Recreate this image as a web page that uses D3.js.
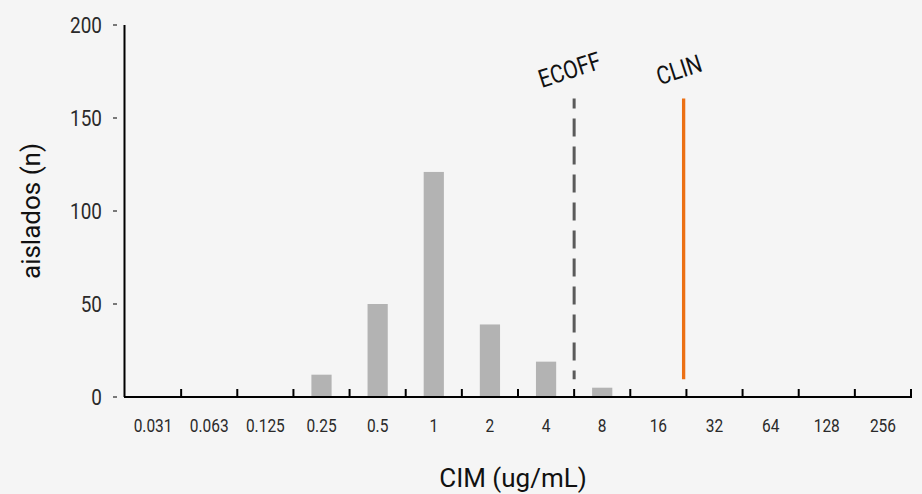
<!DOCTYPE html>
<html>
<head>
<meta charset="utf-8">
<script src="https://cdn.jsdelivr.net/npm/d3@7"></script>
<style>
  body { margin: 0; background: #f5f5f5; }
  svg { display: block; font-family: Roboto, "Liberation Sans", sans-serif; }
</style>
</head>
<body>
<div id="chart"></div>
<script>
// Data
const mic = ["0.031", "0.063", "0.125", "0.25", "0.5", "1", "2", "4", "8", "16", "32", "64", "128", "256"];
const isolates = [0, 0, 0, 12, 50, 121, 39, 19, 5, 0, 0, 0, 0, 0];
const yTicks = [0, 50, 100, 150, 200];
// cut-off lines, position in category units from the left edge
const cutoffNames = ["ECOFF", "CLIN"];
const cutoffPos = [8, 9.95];
const cutoffRange = [9.5, 160.5];

const width = 922;
const height = 494;
const margin = {top: 25, right: 11, bottom: 97, left: 125};
const squeeze = 0.86; // narrow the Roboto glyphs a bit

const svg = d3.select("#chart")
  .append("svg")
  .attr("width", width)
  .attr("height", height);

const x = d3.scaleBand()
  .domain(mic)
  .range([margin.left, width - margin.right])
  .padding(0);

const xu = d3.scaleLinear()
  .domain([0, mic.length])
  .range([margin.left, width - margin.right]);

const y = d3.scaleLinear()
  .domain([0, 200])
  .range([height - margin.bottom, margin.top]);

const barW = x.bandwidth() * 0.36;

// Bars
svg.selectAll(".bar")
  .data(mic.map((m, i) => ({m: m, n: isolates[i]})).filter(d => d.n > 0))
  .enter()
  .append("rect")
  .attr("class", "bar")
  .attr("x", d => x(d.m) + (x.bandwidth() - barW) / 2)
  .attr("y", d => y(d.n))
  .attr("width", barW)
  .attr("height", d => y(0) - y(d.n))
  .attr("fill", "#b3b3b3");

// X axis: line plus upward ticks at the band edges
svg.append("line")
  .attr("x1", margin.left - 1)
  .attr("x2", width - margin.right + 1)
  .attr("y1", y(0))
  .attr("y2", y(0))
  .attr("stroke", "#000")
  .attr("stroke-width", 2);

svg.selectAll(".xtick")
  .data(d3.range(1, mic.length + 1))
  .enter()
  .append("line")
  .attr("x1", d => xu(d))
  .attr("x2", d => xu(d))
  .attr("y1", y(0))
  .attr("y2", y(0) - 8)
  .attr("stroke", "#000")
  .attr("stroke-width", 2);

svg.selectAll(".xlab")
  .data(mic)
  .enter()
  .append("text")
  .attr("transform", d => `translate(${x(d) + x.bandwidth() / 2},432) scale(${squeeze},1)`)
  .attr("text-anchor", "middle")
  .style("font-size", "18px")
  .attr("fill", "#2a2a2a")
  .text(d => d);

// Y axis
svg.append("line")
  .attr("x1", margin.left - 0.5)
  .attr("x2", margin.left - 0.5)
  .attr("y1", y(200))
  .attr("y2", y(0))
  .attr("stroke", "#000")
  .attr("stroke-width", 2);

svg.selectAll(".ytick")
  .data(yTicks)
  .enter()
  .append("line")
  .attr("x1", 113)
  .attr("x2", 117)
  .attr("y1", d => y(d))
  .attr("y2", d => y(d))
  .attr("stroke", "#333")
  .attr("stroke-width", 1.3);

svg.selectAll(".ylab")
  .data(yTicks)
  .enter()
  .append("text")
  .attr("transform", d => `translate(102,${y(d)}) scale(${squeeze},1)`)
  .attr("text-anchor", "end")
  .attr("dy", "0.36em")
  .style("font-size", "22px")
  .attr("fill", "#2a2a2a")
  .text(d => d);

// Cut-off lines
svg.append("line")
  .attr("x1", xu(cutoffPos[0]))
  .attr("x2", xu(cutoffPos[0]))
  .attr("y1", y(cutoffRange[1]))
  .attr("y2", y(cutoffRange[0]))
  .attr("stroke", "#5a5a5a")
  .attr("stroke-width", 3)
  .attr("stroke-dasharray", "18,10")
  .attr("stroke-dashoffset", 8);

svg.append("line")
  .attr("x1", xu(cutoffPos[1]))
  .attr("x2", xu(cutoffPos[1]))
  .attr("y1", y(cutoffRange[1]))
  .attr("y2", y(cutoffRange[0]))
  .attr("stroke", "#ec7014")
  .attr("stroke-width", 3.3);

svg.selectAll(".cutlab")
  .data(cutoffNames)
  .enter()
  .append("text")
  .attr("transform", (d, i) => `translate(${xu(cutoffPos[i]) - 2},78) rotate(-18) scale(0.85,1)`)
  .attr("text-anchor", "middle")
  .style("font-size", "25px")
  .attr("fill", "#111")
  .text(d => d);

// Axis titles
svg.append("text")
  .attr("x", 513)
  .attr("y", 487)
  .attr("text-anchor", "middle")
  .style("font-size", "26px")
  .attr("fill", "#111")
  .text("CIM (ug/mL)");

svg.append("text")
  .attr("transform", "rotate(-90)")
  .attr("x", -211)
  .attr("y", 40)
  .attr("text-anchor", "middle")
  .style("font-size", "26px")
  .attr("fill", "#111")
  .text("aislados (n)");
</script>
</body>
</html>
